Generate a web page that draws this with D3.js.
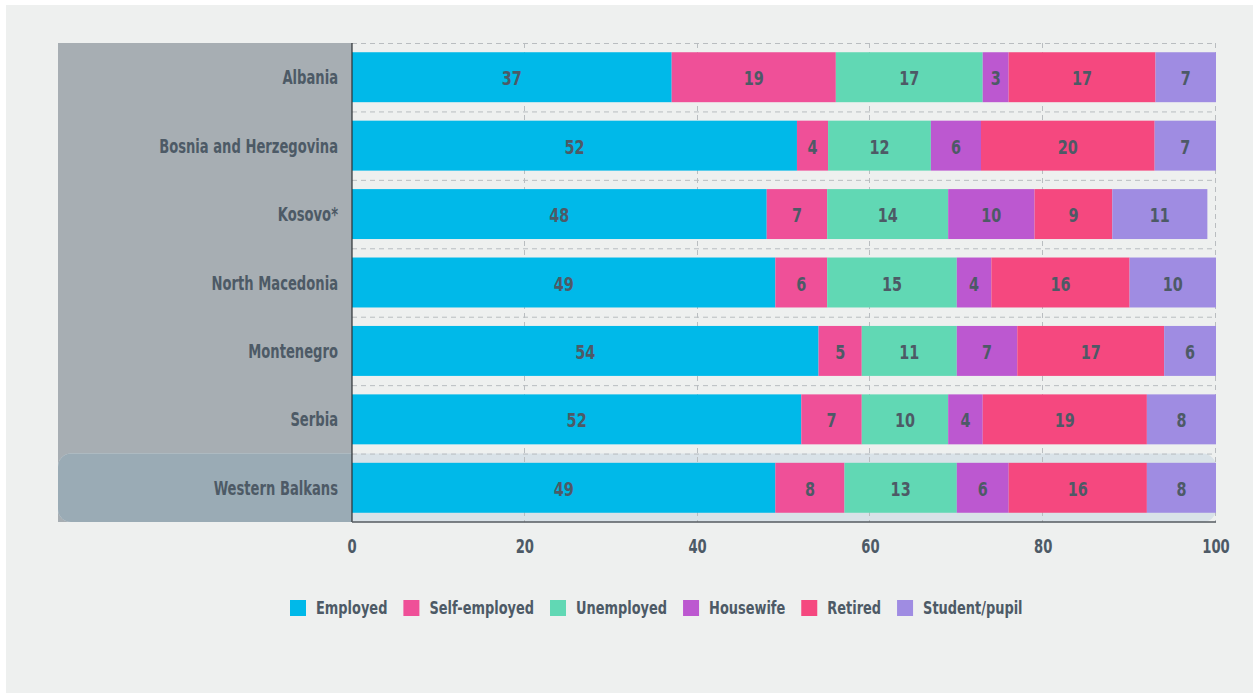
<!DOCTYPE html>
<html>
<head>
<meta charset="utf-8">
<script src="https://cdn.jsdelivr.net/npm/d3@7"></script>
<style>
  body { margin: 0; background: #ffffff; }
  svg { display: block; }
  text { font-family: "DejaVu Sans Condensed", "Liberation Sans Narrow", "Roboto", sans-serif; font-weight: bold; fill: #4d5a66; }
</style>
</head>
<body>
<div id="chart"></div>
<script>
// data
const countries = ["Albania", "Bosnia and Herzegovina", "Kosovo*", "North Macedonia", "Montenegro", "Serbia", "Western Balkans"];
const categories = ["Employed", "Self-employed", "Unemployed", "Housewife", "Retired", "Student/pupil"];
const employed     = [37, 51.5, 48, 49, 54, 52, 49];
const selfEmployed = [19, 3.6, 7, 6, 5, 7, 8];
const unemployed   = [17, 11.9, 14, 15, 11, 10, 13];
const housewife    = [3, 5.8, 10, 4, 7, 4, 6];
const retired      = [17, 20.1, 9, 16, 17, 19, 16];
const student      = [7, 7.1, 11, 10, 6, 8, 8];
const xTicks = [0, 20, 40, 60, 80, 100];
const colors = ["#00b9e9", "#ef5098", "#61d8b4", "#bc58d0", "#f5487f", "#9f8ce2"];

const series = [employed, selfEmployed, unemployed, housewife, retired, student];

const width = 1253, height = 693;
const margin = { top: 43, left: 352, right: 37, bottom: 171 };
const panelLeft = 58;

// the reference uses a condensed face; squeeze the installed one horizontally
function squeezed(sel, px, py, sx) {
  return sel.attr("x", 0).attr("y", 0)
    .attr("transform", (d, i) => "translate(" + px(d, i) + "," + py(d, i) + ") scale(" + sx + ",1)");
}

const svg = d3.select("#chart")
  .append("svg")
  .attr("width", width)
  .attr("height", height);

// light background panel
svg.append("rect")
  .attr("x", 6).attr("y", 5)
  .attr("width", width - 6).attr("height", height - 5)
  .attr("fill", "#eef0ef");

const x = d3.scaleLinear().domain([0, 100]).range([margin.left, width - margin.right]);
const y = d3.scaleBand()
  .domain(countries)
  .range([margin.top, height - margin.bottom])
  .paddingInner(0.27)
  .paddingOuter(0.135);

const step = y.step();
const bottomY = height - margin.bottom;

// gray label panel
svg.append("rect")
  .attr("x", panelLeft).attr("y", margin.top)
  .attr("width", margin.left - panelLeft)
  .attr("height", bottomY - margin.top)
  .attr("fill", "#a7aeb3");

// highlighted last row
const hlTop = margin.top + step * (countries.length - 1);
svg.append("rect")
  .attr("x", panelLeft).attr("y", hlTop)
  .attr("width", x(100) - panelLeft).attr("height", bottomY - hlTop)
  .attr("rx", 13)
  .attr("fill", "#d9e2e8");

svg.append("clipPath").attr("id", "labelClip")
  .append("rect")
  .attr("x", panelLeft).attr("y", margin.top)
  .attr("width", margin.left - panelLeft).attr("height", bottomY - margin.top);

svg.append("rect")
  .attr("x", panelLeft).attr("y", hlTop)
  .attr("width", x(100) - panelLeft).attr("height", bottomY - hlTop)
  .attr("rx", 13)
  .attr("fill", "#9aabb5")
  .attr("clip-path", "url(#labelClip)");

// grid lines
const grid = svg.append("g")
  .attr("stroke", "#b9bdc0")
  .attr("stroke-width", 1)
  .attr("stroke-dasharray", "5,4");

grid.selectAll(".hgrid")
  .data(countries)
  .enter()
  .append("line")
  .attr("x1", x(0)).attr("x2", x(100))
  .attr("y1", (d, i) => margin.top + step * i + 0.5)
  .attr("y2", (d, i) => margin.top + step * i + 0.5);

grid.selectAll(".vgrid")
  .data(xTicks.slice(1))
  .enter()
  .append("line")
  .attr("x1", d => Math.round(x(d)) - 0.5).attr("x2", d => Math.round(x(d)) - 0.5)
  .attr("y1", margin.top).attr("y2", bottomY);

// stacked bars
const rows = countries.map((c, i) => {
  const row = { country: c };
  categories.forEach((k, j) => { row[k] = series[j][i]; });
  return row;
});

const stacked = d3.stack().keys(categories)(rows);
const fmt = d3.format(".0f");

const layers = svg.selectAll(".layer")
  .data(stacked)
  .enter()
  .append("g")
  .attr("class", "layer")
  .attr("fill", (d, i) => colors[i]);

layers.selectAll("rect")
  .data(d => d)
  .enter()
  .append("rect")
  .attr("x", d => x(d[0]))
  .attr("y", d => y(d.data.country))
  .attr("width", d => x(d[1]) - x(d[0]))
  .attr("height", y.bandwidth());

squeezed(layers.selectAll("text")
  .data(d => d)
  .enter()
  .append("text")
  .attr("text-anchor", "middle")
  .style("font-size", "20px")
  .text(d => fmt(d[1] - d[0])),
  d => (x(d[0]) + x(d[1])) / 2,
  d => y(d.data.country) + y.bandwidth() / 2 + 8,
  0.8);

// axes lines
svg.append("line")
  .attr("x1", x(0)).attr("x2", x(0))
  .attr("y1", margin.top).attr("y2", bottomY)
  .attr("stroke", "#2b2f33").attr("stroke-width", 1.2);

svg.append("line")
  .attr("x1", x(0)).attr("x2", x(100))
  .attr("y1", bottomY).attr("y2", bottomY)
  .attr("stroke", "#555b60").attr("stroke-width", 1.5);

// country labels
squeezed(svg.selectAll(".country")
  .data(countries)
  .enter()
  .append("text")
  .attr("class", "country")
  .attr("text-anchor", "end")
  .style("font-size", "20px")
  .text(d => d),
  d => margin.left - 14,
  d => y(d) + y.bandwidth() / 2 + 7,
  0.73);

// x tick labels
squeezed(svg.selectAll(".tick")
  .data(xTicks)
  .enter()
  .append("text")
  .attr("class", "tick")
  .attr("text-anchor", "middle")
  .style("font-size", "19px")
  .text(d => d),
  d => x(d),
  d => 553,
  0.77);

// legend
const legendScale = 0.8;
const legend = svg.append("g");
let lx = 0;
categories.forEach((k, i) => {
  const g = legend.append("g").attr("transform", "translate(" + lx + ",0)");
  g.append("rect")
    .attr("x", 0).attr("y", 600)
    .attr("width", 16).attr("height", 16)
    .attr("fill", colors[i]);
  const t = g.append("text")
    .attr("transform", "translate(26,614) scale(" + legendScale + ",1)")
    .style("font-size", "18px")
    .text(k);
  lx += 26 + t.node().getComputedTextLength() * legendScale + 16;
});
const legendWidth = lx - 16;
legend.attr("transform", "translate(" + Math.round(656 - legendWidth / 2) + ",0)");
</script>
</body>
</html>
